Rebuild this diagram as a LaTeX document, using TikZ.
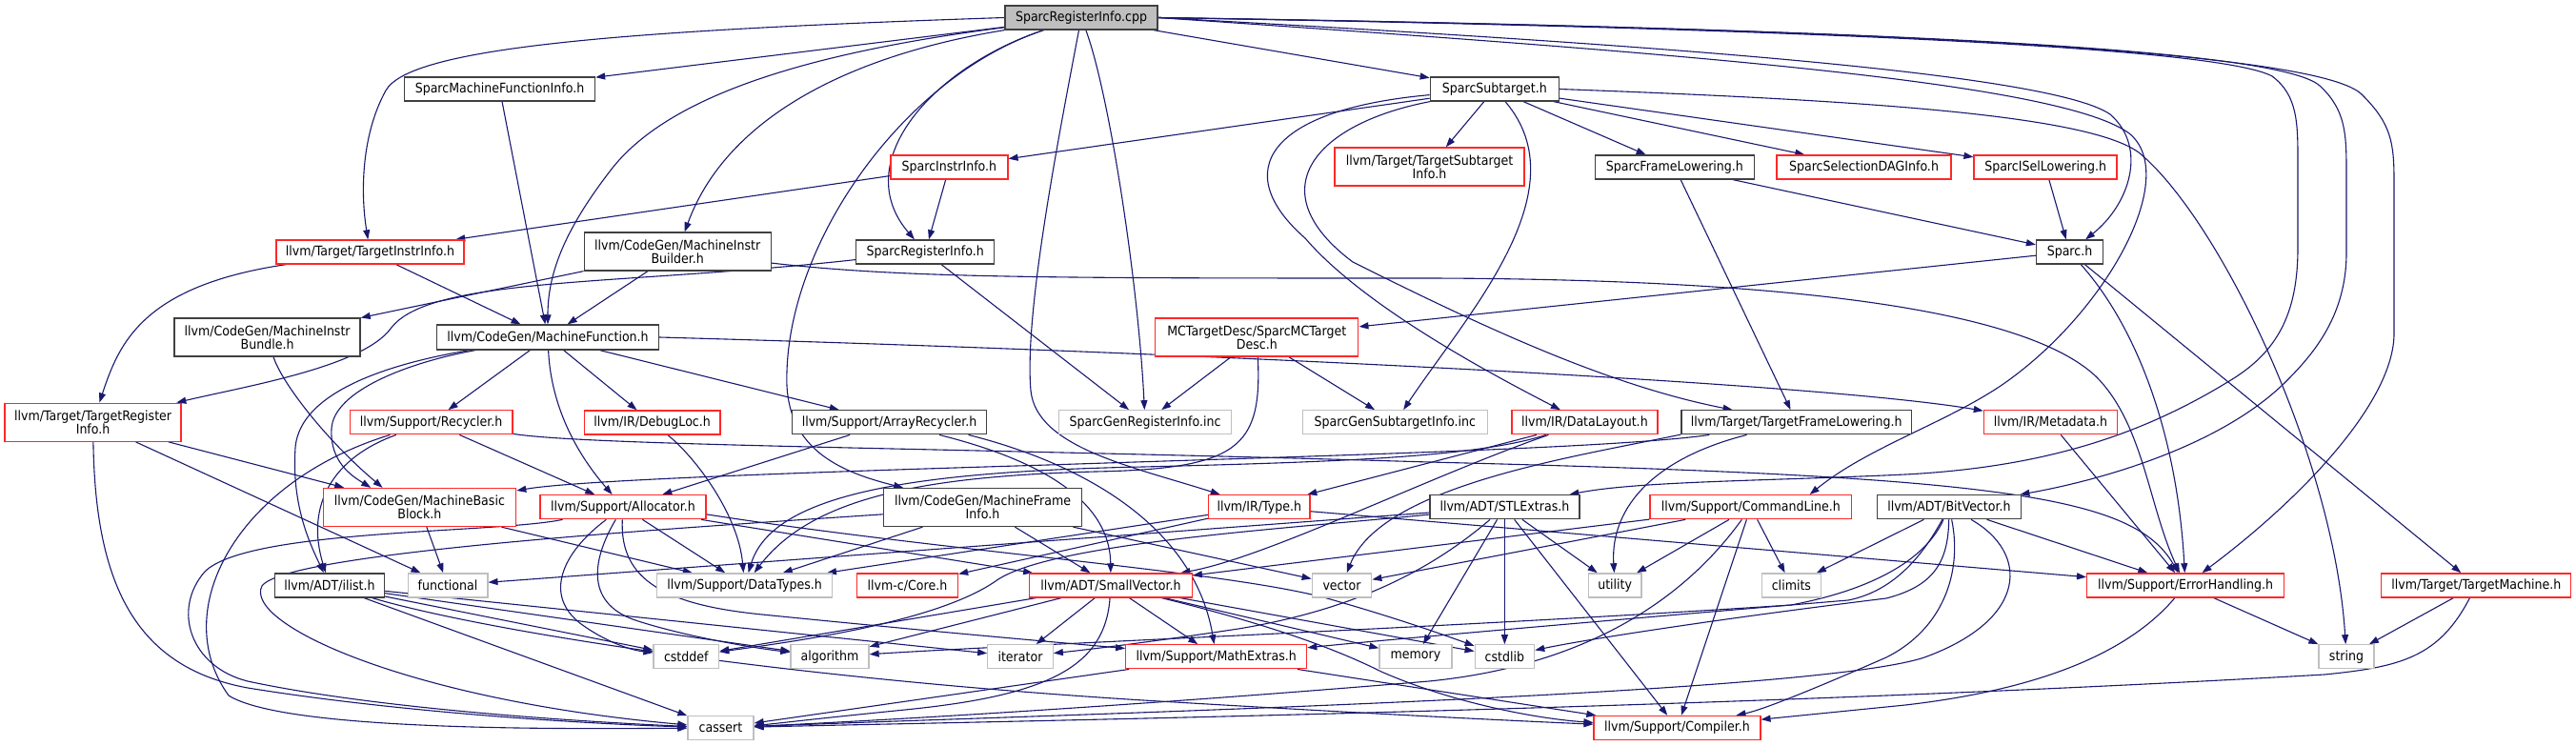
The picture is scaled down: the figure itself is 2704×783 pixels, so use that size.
\documentclass[tikz,border=0pt]{standalone}
\usepackage{fontspec}
\setmainfont{DejaVu Sans}[FakeStretch=0.9]
\usetikzlibrary{arrows.meta}
\definecolor{edgeblue}{RGB}{25,25,112}
\definecolor{nodered}{RGB}{255,40,40}
\definecolor{nodegray}{RGB}{191,191,191}
\definecolor{nodedark}{RGB}{64,64,64}
\pgfdeclarelayer{bg}
\pgfsetlayers{bg,main}
\tikzset{
 nbox/.style={draw=nodedark, line width=1.3pt, fill=white, inner sep=0pt, minimum height=25pt, font=\fontsize{14}{14}\selectfont, align=center},
 rbox/.style={nbox, draw=nodered},
 gbox/.style={nbox, draw=nodegray},
 rootbox/.style={nbox, fill=nodegray, draw=nodedark},
 tall/.style={minimum height=40pt},
 dep/.style={draw=edgeblue, line width=1.1pt, -{Triangle[length=10pt,width=7pt]}},
}
\begin{document}
\begin{tikzpicture}[x=1pt,y=-1pt]
\useasboundingbox (0,0) rectangle (2704,783);
\begin{pgfonlayer}{bg}
\fill[white] (0,0) rectangle (2704,783);
\end{pgfonlayer}
% nodes
\node[rootbox, minimum width=160pt] (root) at (1135,18.5) {SparcRegisterInfo.cpp};
\node[nbox, minimum width=200pt] (smfi) at (524.5,93.5) {SparcMachineFunctionInfo.h};
\node[nbox, minimum width=135pt] (sst) at (1568.8,93.5) {SparcSubtarget.h};
\node[rbox, minimum width=123pt] (sii) at (996.4,175.5) {SparcInstrInfo.h};
\node[rbox, tall, minimum width=199pt] (tsi) at (1500.5,175) {llvm/Target/TargetSubtarget\\Info.h};
\node[nbox, minimum width=167pt] (sfl) at (1757.9,175.5) {SparcFrameLowering.h};
\node[rbox, minimum width=183pt] (ssdag) at (1956.5,175.5) {SparcSelectionDAGInfo.h};
\node[rbox, minimum width=150pt] (sisl) at (2147.1,175.5) {SparcISelLowering.h};
\node[rbox, minimum width=197pt] (tii) at (388.4,264.5) {llvm/Target/TargetInstrInfo.h};
\node[nbox, tall, minimum width=196pt] (mib) at (711.2,264) {llvm/CodeGen/MachineInstr\\Builder.h};
\node[nbox, minimum width=145pt] (sri) at (971.2,264.5) {SparcRegisterInfo.h};
\node[nbox, minimum width=70pt] (sparc) at (2172.5,264.5) {Sparc.h};
\node[nbox, tall, minimum width=195pt] (bundle) at (280.6,354) {llvm/CodeGen/MachineInstr\\Bundle.h};
\node[nbox, minimum width=233pt, minimum height=26pt] (mf) at (575,354) {llvm/CodeGen/MachineFunction.h};
\node[rbox, tall, minimum width=213pt] (mctd) at (1319.3,354) {MCTargetDesc/SparcMCTarget\\Desc.h};
\node[rbox, tall, minimum width=185pt] (tri) at (97.6,443.2) {llvm/Target/TargetRegister\\Info.h};
\node[rbox, minimum width=170.5pt] (rec) at (452.6,443.3) {llvm/Support/Recycler.h};
\node[rbox, minimum width=142.6pt] (dloc) at (684.6,443.5) {llvm/IR/DebugLoc.h};
\node[nbox, minimum width=204pt] (arec) at (933.5,443.3) {llvm/Support/ArrayRecycler.h};
\node[gbox, minimum width=181pt] (sgri) at (1202,443.3) {SparcGenRegisterInfo.inc};
\node[gbox, minimum width=194pt] (sgsi) at (1464.4,443.3) {SparcGenSubtargetInfo.inc};
\node[rbox, minimum width=153pt] (dl) at (1663.4,443.3) {llvm/IR/DataLayout.h};
\node[nbox, minimum width=241.6pt] (tfl) at (1885.8,443.3) {llvm/Target/TargetFrameLowering.h};
\node[rbox, minimum width=140pt] (md) at (2152.4,443.3) {llvm/IR/Metadata.h};
\node[rbox, tall, minimum width=202.5pt] (mbb) at (440.4,532.5) {llvm/CodeGen/MachineBasic\\Block.h};
\node[rbox, minimum width=174pt] (alloc) at (654,532.2) {llvm/Support/Allocator.h};
\node[nbox, tall, minimum width=208pt] (mfi) at (1031.5,532.5) {llvm/CodeGen/MachineFrame\\Info.h};
\node[rbox, minimum width=106.6pt] (type) at (1321.8,532.2) {llvm/IR/Type.h};
\node[nbox, minimum width=157pt] (stl) at (1579.4,532.2) {llvm/ADT/STLExtras.h};
\node[rbox, minimum width=211.7pt] (cl) at (1837.8,532.2) {llvm/Support/CommandLine.h};
\node[nbox, minimum width=150.6pt] (bv) at (2045.9,532.2) {llvm/ADT/BitVector.h};
\node[nbox, minimum width=114.5pt] (ilist) at (346,614.4) {llvm/ADT/ilist.h};
\node[gbox, minimum width=83.7pt] (func) at (470,614.4) {functional};
\node[gbox, minimum width=184pt] (dt) at (781.6,614.4) {llvm/Support/DataTypes.h};
\node[rbox, minimum width=106pt] (core) at (952.5,614.4) {llvm-c/Core.h};
\node[rbox, minimum width=170.5pt] (sv) at (1166,614.4) {llvm/ADT/SmallVector.h};
\node[gbox, minimum width=62.5pt] (vec) at (1408.5,614.4) {vector};
\node[gbox, minimum width=55.6pt] (util) at (1695.2,614.4) {utility};
\node[gbox, minimum width=62.5pt] (clim) at (1880.4,614.4) {climits};
\node[rbox, minimum width=206.7pt] (eh) at (2294,614.4) {llvm/Support/ErrorHandling.h};
\node[rbox, minimum width=199pt] (tm) at (2599.3,614.4) {llvm/Target/TargetMachine.h};
\node[gbox, minimum width=68.6pt] (cstddef) at (720.3,689.3) {cstddef};
\node[gbox, minimum width=82pt] (algo) at (871,689.3) {algorithm};
\node[gbox, minimum width=68.5pt] (iter) at (1071,689.3) {iterator};
\node[rbox, minimum width=190pt] (me) at (1276.7,689.3) {llvm/Support/MathExtras.h};
\node[gbox, minimum width=76pt] (mem) at (1486,689.3) {memory};
\node[gbox, minimum width=62.4pt] (cstdlib) at (1579.4,689.3) {cstdlib};
\node[gbox, minimum width=58pt] (str) at (2463,689.3) {string};
\node[gbox, minimum width=69pt] (cassert) at (756.5,764) {cassert};
\node[rbox, minimum width=174.8pt] (comp) at (1760.5,764) {llvm/Support/Compiler.h};
% edges
\begin{pgfonlayer}{bg}
% root
\draw[dep] (root) -- (smfi);
\draw[dep] (root.west) .. controls (650,32) and (430,50) .. (405,95) .. controls (380,140) and (378,200) .. (tii);
\draw[dep] (root) .. controls (850,55) and (700,100) .. (640,180) .. controls (590,245) and (575,290) .. (mf);
\draw[dep] (root) .. controls (880,60) and (760,130) .. (mib);
\draw[dep] (root) .. controls (980,70) and (890,170) .. (sri);
\draw[dep] (root) -- (sst);
\draw[dep] (root) .. controls (950,80) and (830,250) .. (826,390) .. controls (822,470) and (880,495) .. (mfi);
\draw[dep] (root) .. controls (1110,150) and (1075,330) .. (1082,410) .. controls (1088,470) and (1190,490) .. (type);
\draw[dep] (root) .. controls (1165,100) and (1195,300) .. (sgri);
\draw[dep] (root.east) .. controls (1700,45) and (2150,75) .. (2215,120) .. controls (2255,155) and (2235,215) .. (sparc);
\draw[dep] (root.east) .. controls (1750,55) and (2160,85) .. (2235,140) .. controls (2290,185) and (2210,330) .. (2100,405) .. controls (2040,445) and (1960,470) .. (cl.12);
\draw[dep] (root.east) .. controls (1900,30) and (2330,50) .. (2385,80) .. controls (2412,100) and (2412,130) .. (2412,170) -- (2412,260) .. controls (2412,330) and (2390,370) .. (2340,400) .. controls (2250,455) and (2150,490) .. (2000,498) .. controls (1850,505) and (1720,505) .. (stl);
\draw[dep] (root.east) .. controls (1950,30) and (2390,50) .. (2435,90) .. controls (2462,115) and (2463,140) .. (2463,180) -- (2463,265) .. controls (2463,330) and (2430,370) .. (2400,400) .. controls (2330,470) and (2200,505) .. (bv);
\draw[dep] (root.east) .. controls (2000,30) and (2440,55) .. (2480,100) .. controls (2510,130) and (2513,150) .. (2513,190) -- (2513,350) .. controls (2513,420) and (2420,520) .. (eh);
% SparcSubtarget
\draw[dep] (sst) -- (sii);
\draw[dep] (sst) -- (tsi);
\draw[dep] (sst) -- (sfl);
\draw[dep] (sst) -- (ssdag);
\draw[dep] (sst) -- (sisl);
\draw[dep] (sst.east) .. controls (1950,105) and (2190,120) .. (2245,160) .. controls (2330,230) and (2450,480) .. (str);
\draw[dep] (sst) .. controls (1660,200) and (1540,330) .. (sgsi);
\draw[dep] (sst) .. controls (1330,115) and (1290,180) .. (1370,250) .. controls (1430,320) and (1560,390) .. (dl);
\draw[dep] (sst) .. controls (1380,130) and (1320,200) .. (1420,275) .. controls (1560,345) and (1690,405) .. (tfl);
% second row
\draw[dep] (sii) -- (sri);
\draw[dep] (sii) -- (tii);
\draw[dep] (sfl) -- (sparc);
\draw[dep] (sfl) -- (tfl);
\draw[dep] (sisl) -- (sparc);
\draw[dep] (sri) -- (sgri);
\draw[dep] (sri) .. controls (650,300) and (450,290) .. (410,345) .. controls (380,385) and (260,405) .. (tri);
\draw[dep] (mctd) -- (sgri);
\draw[dep] (mctd) -- (sgsi);
\draw[dep] (mctd) .. controls (1325,470) and (1300,492) .. (1150,495) .. controls (960,500) and (850,525) .. (dt);
\draw[dep] (sparc) -- (mctd);
\draw[dep] (sparc) .. controls (2240,340) and (2285,450) .. (eh);
\draw[dep] (sparc) -- (tm);
\draw[dep] (smfi) -- (mf);
\draw[dep] (tii) -- (mf);
\draw[dep] (tii) .. controls (150,300) and (125,360) .. (tri);
\draw[dep] (mib) -- (bundle);
\draw[dep] (mib) -- (mf);
\draw[dep] (mib.-7) .. controls (950,292) and (1100,292) .. (1500,292) .. controls (1850,293) and (2120,320) .. (2200,395) .. controls (2250,445) and (2255,530) .. (eh);
\draw[dep] (bundle) .. controls (295,400) and (340,460) .. (mbb.152);
% MachineFunction
\draw[dep] (mf) .. controls (430,378) and (315,405) .. (310,470) .. controls (306,530) and (325,570) .. (ilist);
\draw[dep] (mf) .. controls (430,380) and (350,410) .. (348,450) .. controls (346,485) and (370,500) .. (mbb.158);
\draw[dep] (mf) -- (rec);
\draw[dep] (mf) .. controls (578,420) and (600,470) .. (alloc);
\draw[dep] (mf) -- (dloc);
\draw[dep] (mf) -- (arec);
\draw[dep] (mf.east) .. controls (1200,368) and (1900,400) .. (md);
% TargetRegisterInfo
\draw[dep] (tri) -- (mbb);
\draw[dep] (tri) -- (func);
\draw[dep] (tri) .. controls (100,610) and (140,700) .. (260,722) .. controls (420,748) and (620,760) .. (cassert);
% Recycler
\draw[dep] (rec) .. controls (350,480) and (320,530) .. (ilist);
\draw[dep] (rec) .. controls (250,505) and (175,640) .. (240,730) .. controls (300,768) and (600,765) .. (cassert);
\draw[dep] (rec) -- (alloc);
\draw[dep] (rec.-8) .. controls (620,468) and (1000,470) .. (1500,485) .. controls (2100,500) and (2240,520) .. (eh);
\draw[dep] (dloc) .. controls (730,480) and (775,540) .. (dt);
% ArrayRecycler
\draw[dep] (arec) -- (alloc);
\draw[dep] (arec) .. controls (1080,480) and (1165,520) .. (sv);
\draw[dep] (arec.-9) .. controls (1150,490) and (1255,560) .. (me);
% MachineBasicBlock
\draw[dep] (mbb) -- (func);
\draw[dep] (mbb) -- (dt);
% Allocator
\draw[dep] (alloc) -- (dt);
\draw[dep] (alloc) -- (sv);
\draw[dep] (alloc) .. controls (650,610) and (700,635) .. (800,645) .. controls (1000,665) and (1120,675) .. (me);
\draw[dep] (alloc) .. controls (590,580) and (570,625) .. (610,655) .. controls (635,673) and (660,682) .. (cstddef);
\draw[dep] (alloc) .. controls (620,590) and (615,635) .. (670,652) .. controls (720,668) and (790,680) .. (algo);
\draw[dep] (alloc.-5) .. controls (1000,580) and (1300,600) .. (1400,630) .. controls (1470,650) and (1520,668) .. (cstdlib);
\draw[dep] (alloc) .. controls (520,560) and (260,555) .. (215,600) .. controls (180,640) and (200,700) .. (260,715) .. controls (400,745) and (620,758) .. (cassert);
% MachineFrameInfo
\draw[dep] (mfi) -- (sv);
\draw[dep] (mfi) -- (dt);
\draw[dep] (mfi) -- (vec);
\draw[dep] (mfi.184) .. controls (700,555) and (300,580) .. (275,615) .. controls (255,655) and (430,735) .. (cassert);
% Type, DataLayout
\draw[dep] (type) -- (core);
\draw[dep] (type) -- (dt);
\draw[dep] (type) -- (eh);
\draw[dep] (dl) -- (type);
\draw[dep] (dl) .. controls (1550,480) and (1400,485) .. (1200,490) .. controls (950,495) and (810,520) .. (dt);
\draw[dep] (dl) .. controls (1500,500) and (1330,585) .. (sv);
% TargetFrameLowering
\draw[dep] (tfl) .. controls (1700,470) and (1400,478) .. (1100,488) .. controls (800,497) and (600,505) .. (mbb);
\draw[dep] (tfl) .. controls (1740,480) and (1690,530) .. (util);
\draw[dep] (tfl.186) .. controls (1650,480) and (1450,510) .. (vec);
% STLExtras
\draw[dep] (stl) -- (func);
\draw[dep] (stl) .. controls (1350,555) and (1100,570) .. (1045,610) .. controls (980,655) and (820,675) .. (cstddef);
\draw[dep] (stl) .. controls (1500,600) and (1420,640) .. (1300,660) .. controls (1200,675) and (1140,682) .. (iter);
\draw[dep] (stl) -- (mem);
\draw[dep] (stl) -- (cstdlib);
\draw[dep] (stl) -- (comp);
\draw[dep] (stl) -- (util);
% CommandLine
\draw[dep] (cl) -- (sv);
\draw[dep] (cl) -- (vec);
\draw[dep] (cl) -- (util);
\draw[dep] (cl) .. controls (1760,640) and (1650,700) .. (1500,715) .. controls (1200,740) and (950,755) .. (cassert);
\draw[dep] (cl) -- (comp);
\draw[dep] (cl) -- (clim);
% BitVector
\draw[dep] (bv) -- (eh);
\draw[dep] (bv) -- (clim);
\draw[dep] (bv) .. controls (2020,580) and (1990,620) .. (1940,630) .. controls (1700,650) and (1450,672) .. (me);
\draw[dep] (bv) .. controls (2045,590) and (2030,615) .. (1980,628) .. controls (1800,650) and (1660,672) .. (cstdlib);
\draw[dep] (bv) .. controls (2060,600) and (2040,660) .. (1980,690) .. controls (1900,725) and (1850,745) .. (comp);
\draw[dep] (bv) .. controls (2020,590) and (1960,620) .. (1880,635) .. controls (1500,660) and (1100,675) .. (algo);
\draw[dep] (bv) .. controls (2130,580) and (2130,650) .. (2020,690) .. controls (1900,730) and (1100,750) .. (cassert);
% ErrorHandling, TargetMachine, Metadata
\draw[dep] (md) -- (eh);
\draw[dep] (eh) -- (str);
\draw[dep] (eh) .. controls (2230,690) and (2130,725) .. (2000,740) .. controls (1930,747) and (1880,752) .. (comp);
\draw[dep] (tm) -- (str);
\draw[dep] (tm) .. controls (2560,690) and (2520,700) .. (2440,708) .. controls (1800,745) and (1000,758) .. (cassert);
% SmallVector
\draw[dep] (sv) -- (cstddef);
\draw[dep] (sv) -- (algo);
\draw[dep] (sv) -- (iter);
\draw[dep] (sv) .. controls (1160,700) and (1100,730) .. (950,745) .. controls (850,755) and (810,760) .. (cassert);
\draw[dep] (sv) -- (me);
\draw[dep] (sv) -- (mem);
\draw[dep] (sv) -- (cstdlib);
\draw[dep] (sv) .. controls (1330,655) and (1400,680) .. (1450,705) .. controls (1530,740) and (1620,755) .. (comp);
% MathExtras
\draw[dep] (me) -- (cassert);
\draw[dep] (me) -- (comp);
% ilist
\draw[dep] (ilist) -- (cstddef);
\draw[dep] (ilist) -- (algo);
\draw[dep] (ilist) -- (iter);
\draw[dep] (ilist) -- (cassert);
\draw[dep] (ilist) .. controls (500,660) and (800,710) .. (1200,735) .. controls (1450,750) and (1600,757) .. (comp);
\end{pgfonlayer}
\end{tikzpicture}
\end{document}
